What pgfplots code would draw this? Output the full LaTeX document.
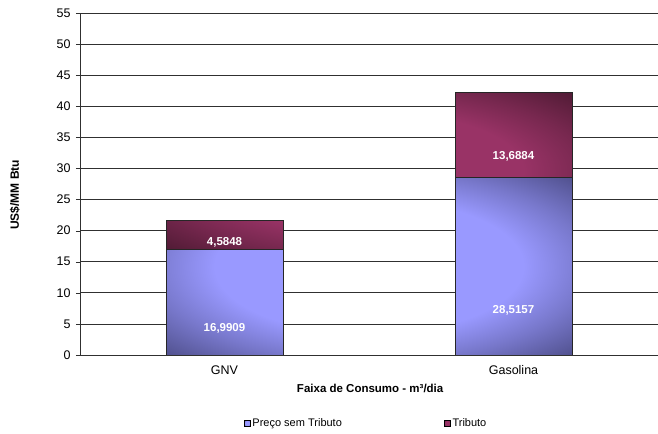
\documentclass[border=0pt]{standalone}
\usepackage{fontspec}
\setmainfont{Liberation Sans}
\usepackage{pgfplots}
\pgfplotsset{compat=1.18}
\usepackage{pgfplotstable}
\definecolor{precoC}{HTML}{9999FF}
\definecolor{precoE}{HTML}{4E4E8A}
\definecolor{tribC}{HTML}{993366}
\definecolor{tribE}{HTML}{4E1A33}
\definecolor{gridc}{HTML}{303030}
\pgfdeclareradialshading{bevelP}{\pgfpoint{0bp}{0bp}}{color(0bp)=(precoC); color(19bp)=(precoC); color(27bp)=(precoC!55!precoE); color(36bp)=(precoE); color(50bp)=(precoE)}
\pgfdeclareradialshading{bevelT}{\pgfpoint{0bp}{0bp}}{color(0bp)=(tribC); color(19bp)=(tribC); color(27bp)=(tribC!55!tribE); color(36bp)=(tribE); color(50bp)=(tribE)}
\pgfplotstableread{
x preco tributo
1 16.9909 4.5848
2 28.5157 13.6884
}\datatable
\begin{document}
\begin{tikzpicture}
\begin{axis}[
  name=ax,
  scale only axis, width=578pt, height=342pt,
  ybar stacked, bar width=117pt,
  xmin=0.5, xmax=2.5, ymin=0, ymax=55,
  ytick={0,5,...,55},
  xtick={1,2}, xticklabels={GNV,Gasolina},
  xtick style={draw=none},
  extra x ticks={1.5}, extra x tick labels={},
  extra x tick style={major tick length=5pt, tick style={draw=gridc}, grid=none},
  tick align=outside, major tick length=4pt,
  ytick style={draw=gridc},
  axis x line*=bottom, axis y line*=left,
  axis line style={-, draw=gridc, line width=0.8pt},
  ymajorgrids, grid style={draw=gridc, line width=0.7pt},
  ticklabel style={font=\fontsize{12.5}{14}\selectfont},
  /pgf/number format/assume math mode=true,
  yticklabel style={xshift=-2pt},
  xticklabel style={yshift=-3pt},
  ylabel={US\$/MM Btu},
  ylabel style={font=\bfseries\fontsize{12}{14}\selectfont, at={(axis description cs:-0.1125,0.468)}, anchor=center},
  xlabel={Faixa de Consumo - m³/dia},
  xlabel style={font=\bfseries\fontsize{11.5}{13}\selectfont, at={(axis description cs:0.502,-0.0965)}, anchor=center},
  nodes near coords={\pgfmathprintnumber[use comma, fixed, fixed zerofill, precision=4, 1000 sep={}]{\pgfplotspointmeta}},
  point meta=explicit,
  visualization depends on={rawy \as \val},
  every node near coord/.append style={font=\bfseries\fontsize{11.5}{13}\selectfont, text=white, anchor=center, yshift=-\val*1.5545pt},
  legend columns=2,
  legend style={at={(axis description cs:0.495,-0.199)}, anchor=center, draw=none,
    font=\fontsize{11}{12}\selectfont,
    /tikz/every even column/.append style={column sep=100pt}},
]
\addplot[draw=black!85, line width=0.8pt, shading=bevelP,
  legend image code/.code={\draw[fill=precoC, draw=black, line width=0.6pt] (0pt,-3pt) rectangle (6pt,3pt);}]
  table[x=x, y=preco, meta=preco] {\datatable};
\addlegendentry{Preço sem Tributo}
\addplot[draw=black!85, line width=0.8pt, shading=bevelT,
  legend image code/.code={\draw[fill=tribC, draw=black, line width=0.6pt] (0pt,-3pt) rectangle (6pt,3pt);}]
  table[x=x, y=tributo, meta=tributo] {\datatable};
\addlegendentry{Tributo}
\end{axis}
\pgfresetboundingbox
\path[use as bounding box] ([shift={(-80pt,-79pt)}]ax.south west) rectangle ([shift={(0pt,13pt)}]ax.north east);
\end{tikzpicture}
\end{document}
